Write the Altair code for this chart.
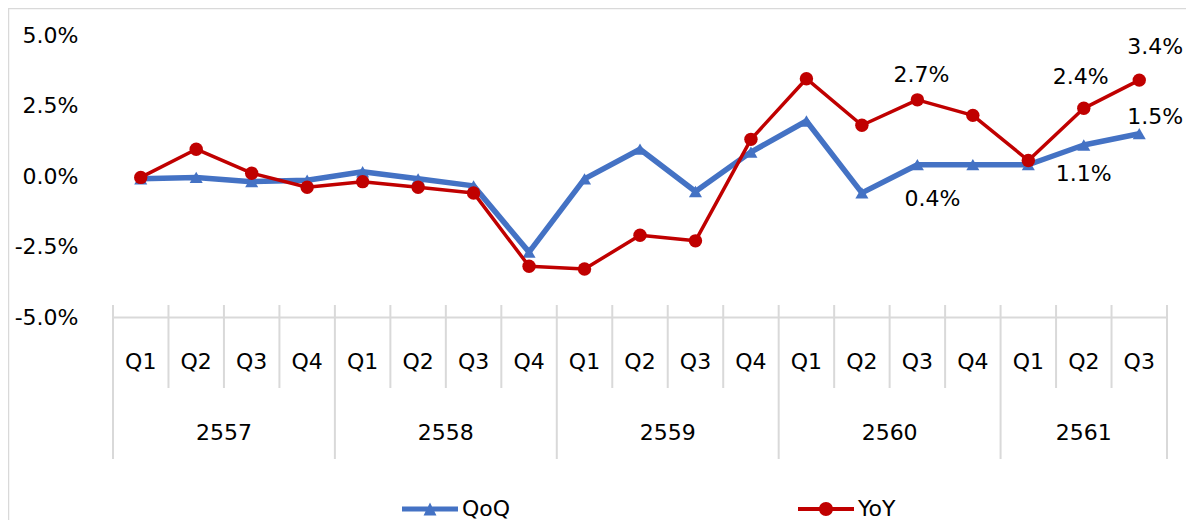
import altair as alt
import pandas as pd

# ---------------- data ----------------
years = ["2557"] * 4 + ["2558"] * 4 + ["2559"] * 4 + ["2560"] * 4 + ["2561"] * 3
quarters = ["Q1", "Q2", "Q3", "Q4"] * 4 + ["Q1", "Q2", "Q3"]
qoq = [-0.1, -0.05, -0.2, -0.15, 0.15, -0.1, -0.35, -2.7, -0.1, 0.95, -0.55, 0.85,
       1.95, -0.6, 0.4, 0.4, 0.4, 1.1, 1.5]
yoy = [-0.05, 0.95, 0.1, -0.4, -0.2, -0.4, -0.6, -3.2, -3.3, -2.1, -2.3, 1.3,
       3.45, 1.8, 2.7, 2.15, 0.55, 2.4, 3.4]
series_names = ["QoQ", "YoY"]
y_ticks = [-5.0, -2.5, 0.0, 2.5, 5.0]
# annotated points (series, category index)
annot_series = ["YoY", "QoQ", "QoQ", "YoY", "YoY", "QoQ"]
annot_index = [14, 14, 17, 17, 18, 18]

# ---------------- styles ----------------
FONT = "DejaVu Sans"
FS = 22
GRID = "#d9d9d9"
styles = {
    "QoQ": dict(color="#4472C4", width=5.5, shape="triangle-up", size=170),
    "YoY": dict(color="#C00000", width=3.5, shape="circle", size=180),
}
legend_paths = [
    "M-1,-0.09H1V0.09H-1Z M-0.23,0.23L0,-0.23L0.23,0.23Z",
    "M-1,-0.07H1V0.07H-1Z M-0.25,0A0.25,0.25,0,1,1,0.25,0A0.25,0.25,0,1,1,-0.25,0Z",
]
label_offsets = [(4, -25), (15, 34), (0, 29), (-3, -31), (16, -33), (16, -17)]

# ---------------- tables ----------------
n = len(quarters)
idx = list(range(n))
cats = pd.DataFrame({"idx": idx, "year": years, "quarter": quarters})
long = pd.DataFrame({
    "idx": idx * 2,
    "year": years * 2,
    "quarter": quarters * 2,
    "series": ["QoQ"] * n + ["YoY"] * n,
    "value": qoq + yoy,
})
bpos, bkind = [], []
for i in range(n + 1):
    bpos.append(i - 0.5)
    is_year = i == 0 or i == n or years[i] != years[i - 1]
    bkind.append("year" if is_year else "quarter")
bounds = pd.DataFrame({"pos": bpos, "kind": bkind})
annots = pd.DataFrame({"series": annot_series, "idx": annot_index})
annots = annots.merge(long, on=["series", "idx"])

xs = alt.Scale(domain=[-0.5, n - 0.5], nice=False, zero=False)
ys = alt.Scale(domain=[-5, 5], nice=False, zero=False)
xaxis = alt.Axis(domain=True, domainColor=GRID, domainWidth=2, labels=False,
                 ticks=False, grid=False, title=None)
yaxis = alt.Axis(values=y_ticks, domain=False, ticks=False, grid=False, title=None,
                 labelExpr="replace(format(datum.value, '.1f'), '\u2212', '-') + '%'",
                 labelPadding=35, labelFont=FONT, labelFontSize=FS, labelColor="black")

X = alt.X("idx:Q", scale=xs, axis=xaxis)
Y = alt.Y("value:Q", scale=ys, axis=yaxis)

layers = []

# frame (top / left border)
one = pd.DataFrame({"k": [0]})
layers.append(alt.Chart(one).mark_rule(color=GRID, strokeWidth=1.5).encode(
    x=alt.value(-104.5), y=alt.value(-27), y2=alt.value(520)))
layers.append(alt.Chart(one).mark_rule(color=GRID, strokeWidth=1.5).encode(
    x=alt.value(-105), x2=alt.value(1100), y=alt.value(-26.5)))

# category dividers
layers.append(alt.Chart(bounds).transform_filter("datum.kind == 'quarter'").mark_rule(
    color=GRID, strokeWidth=2).encode(
    x=alt.X("pos:Q", scale=xs, axis=xaxis), y=alt.value(270), y2=alt.value(353)))
layers.append(alt.Chart(bounds).transform_filter("datum.kind == 'year'").mark_rule(
    color=GRID, strokeWidth=2).encode(
    x=alt.X("pos:Q", scale=xs, axis=xaxis), y=alt.value(270), y2=alt.value(424)))

# quarter / year labels
layers.append(alt.Chart(cats).mark_text(font=FONT, fontSize=FS, color="black",
                                        baseline="middle").encode(
    x=X, y=alt.value(327), text="quarter:N"))
layers.append(alt.Chart(cats).transform_aggregate(center="mean(idx)", groupby=["year"])
              .mark_text(font=FONT, fontSize=FS, color="black", baseline="middle").encode(
    x=alt.X("center:Q", scale=xs, axis=xaxis), y=alt.value(398), text="year:N"))

# series
for s in series_names:
    st = styles[s]
    base = alt.Chart(long).transform_filter(alt.datum.series == s)
    layers.append(base.mark_line(color=st["color"], strokeWidth=st["width"],
                                 strokeJoin="round").encode(x=X, y=Y))
    layers.append(base.mark_point(shape=st["shape"], filled=True, size=st["size"],
                                  color=st["color"], opacity=1).encode(x=X, y=Y))

# legend-only layer
leg = alt.Legend(orient="none", legendX=289, legendY=446, direction="horizontal",
                 title=None, labelFont=FONT, labelFontSize=FS, labelColor="black",
                 symbolSize=3136, columnPadding=287, padding=0, labelOffset=4,
                 symbolStrokeWidth=0)
layers.append(alt.Chart(long).transform_filter("false").mark_point(
    filled=True, size=3136, opacity=1).encode(
    x=X, y=Y,
    color=alt.Color("series:N", scale=alt.Scale(domain=series_names,
                    range=[styles[s]["color"] for s in series_names]), legend=leg),
    shape=alt.Shape("series:N", scale=alt.Scale(domain=series_names, range=legend_paths),
                    legend=leg)))

# data labels
for k in range(len(annots)):
    row = annots.iloc[[k]].copy()
    row["label"] = row["value"].map(lambda v: f"{v:.1f}%")
    dx, dy = label_offsets[k]
    layers.append(alt.Chart(row).mark_text(font=FONT, fontSize=FS, color="black",
                                           baseline="middle", dx=dx, dy=dy).encode(
        x=X, y=Y, text="label:N"))

chart = alt.layer(*layers).properties(
    width=1054, height=282,
    autosize=alt.AutoSizeParams(type="none"),
    padding={"left": 105, "top": 27, "right": 19, "bottom": 203},
).configure(background="white", view=alt.ViewConfig(stroke=None))

chart.save("out.html", embed_options={"renderer": "svg", "actions": False})
